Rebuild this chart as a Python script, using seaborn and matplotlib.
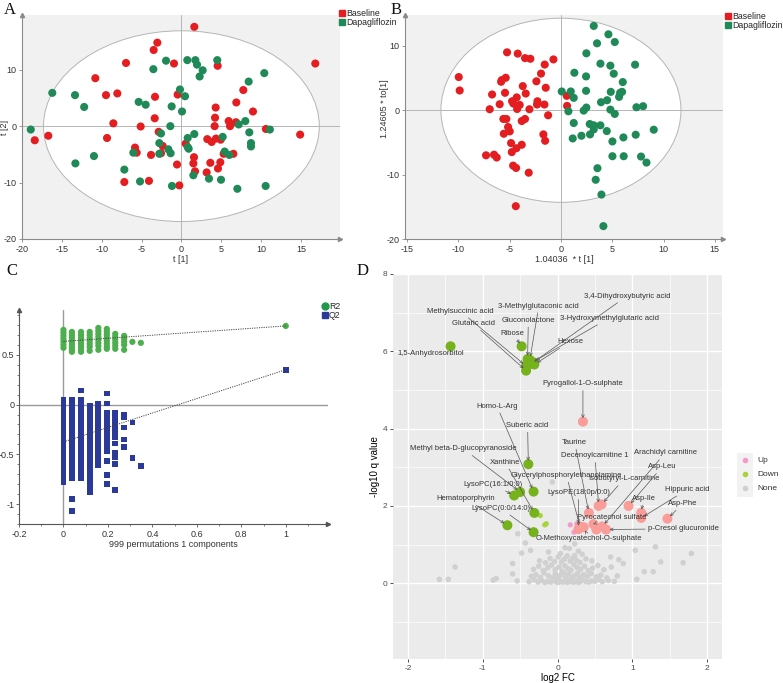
""" Four-panel metabolomics figure: PCA, OPLS-DA, permutation test, volcano """

import matplotlib
matplotlib.use("Agg")
import matplotlib.pyplot as plt
import numpy as np
import pandas as pd
import seaborn as sns
from matplotlib.lines import Line2D
from matplotlib.patches import Ellipse, Rectangle


# ---------------- data ----------------

# A: PCA scores t[1], t[2]
pca_base_x = [1.62, -3.02, -3.48, -6.95, -0.93, 4.55, 16.8, -10.8, -9.46, -8.04, -3.31, -0.47,
              7.77, 6.89, 4.3, 8.98, -8.54, -5.11, -3.35, 4.22, 4.17, 5.93, 6.1, 6.85, 10.6,
              14.9, -16.7, -18.4, -9.33, -2.85, -5.82, -5.61, -3.81, -2.35, -2.56, 0.54, 3.25,
              3.8, 4.34, 4.93, 5.3, 6.52, 1.58, 1.5, 1.71, 3.63, 4.88, 4.59, 3.17, -0.55,
              -7.16, -4.07, -0.26]
pca_base_y = [17.6, 14.8, 13.5, 11.2, 11.1, 10.7, 11.1, 8.5, 5.5, 5.8, 5.2, 5.6,
              6.4, 4.2, 3.3, 2.6, 0.5, -0.06, 1.4, 1.5, 0.0, 0.9, 0.0, 0.7, -0.5,
              -1.5, -1.7, -2.5, -2.1, -1.0, -3.8, -4.7, -5.1, -3.5, -4.8, -3.1, -2.3,
              -2.8, -2.2, -2.4, -4.9, -4.9, -5.5, -6.6, -8.0, -6.5, -6.4, -7.5, -8.2, -6.8,
              -9.9, -9.7, -10.5]
pca_dapa_x = [0.74, 1.75, 1.96, 2.67, 2.29, 4.5, -1.93, -3.52, 10.4, 8.44, -16.2, -13.35,
              -12.2, -5.36, -4.48, -1.22, -0.18, 0.45, 0.08, -1.39, -2.56, -18.9, -10.97,
              -13.3, -7.16, -6.03, -2.77, -2.77, -1.64, -1.35, 0.79, 0.79, 0.91, 1.62, 5.18,
              7.19, 8.02, 8.52, 8.73, 8.73, 11.1, 5.43, 6.01, 1.5, 3.46, 4.97, -5.19, -1.18,
              7.02, 10.57]
pca_dapa_y = [11.7, 11.7, 10.9, 9.9, 8.8, 11.7, 11.6, 10.1, 9.4, 7.9, 5.9, 5.5,
              3.4, 4.3, 3.8, 3.5, 6.5, 5.3, 2.6, 0.0, -1.3, -0.6, -5.3,
              -6.6, -7.7, -4.7, -3.0, -4.9, -4.1, -4.8, -2.1, -3.7, -4.0, -1.4, -1.9,
              0.3, 0.9, -1.1, -3.0, -3.6, -0.6, -4.5, -5.1, -8.7, -9.3, -9.5, -9.8, -10.6,
              -11.1, -10.6]

# B: OPLS-DA scores
opls_base_x = [-9.96, -9.87, -6.71, -6.94, -5.97, -5.83, -5.77, -5.38, -5.45, -5.25, -4.21,
               -3.5, -2.98, -0.73, -1.58, -1.94, -2.39, -1.48, -3.72, -3.43, -4.31, -4.76,
               -4.63, -4.02, -4.27, -3.07, -2.29, -2.33, -1.61, -1.25, 0.57, 0.6, -5.61,
               -5.32, -5.15, -5.57, -4.99, -3.5, -3.82, -1.71, -1.54, -4.86, -4.79, -4.34,
               -3.82, -7.3, -6.52, -6.26, -4.66, -4.37, -3.14, -4.4]
opls_base_y = [5.16, 3.07, 2.45, 0.16, 0.94, 4.43, 4.69, 5.05, 2.71, 9.0, 8.8,
               8.1, 8.0, 7.9, 7.1, 5.7, 4.5, 3.5, 3.75, 2.6, 2.0, 1.4,
               1.04, 0.83, 0.2, 0.16, 1.4, 0.89, 0.89, -0.78, 2.24, 0.68, -1.35,
               -1.35, -2.6, -3.65, -3.28, -1.35, -1.67, -3.75, -4.74, -5.1, -6.5, -5.9,
               -5.36, -7.0, -6.9, -7.34, -8.6, -8.96, -9.7, -14.9]
opls_dapa_x = [3.2, 4.63, 3.52, 5.25, 2.48, 3.85, 4.82, 7.23, 1.31, 5.15, 2.45, 6.03,
               0.08, 0.96, 1.25, 2.45, 4.86, 5.77, 5.96, 5.67, 4.5, 3.91, 0.73, 2.22,
               2.48, 4.82, 5.25, 7.36, 8.01, 1.25, 2.81, 3.2, 3.2, 2.84, 3.85, 4.47,
               1.15, 2.0, 5.02, 6.09, 7.29, 9.05, 5.02, 6.12, 7.81, 8.34, 3.56, 3.39,
               3.95, 4.14]
opls_dapa_y = [13.1, 11.8, 10.4, 10.6, 8.85, 7.24, 6.93, 7.08, 5.83, 5.68, 5.26, 4.38,
               2.92, 2.92, 1.93, 3.02, 2.86, 2.71, 2.86, 2.08, 1.56, 1.25, -0.16, -0.05,
               0.42, 0.1, -0.57, 0.47, 0.63, -1.98, -2.14, -2.34, -2.97, -3.75, -2.34, -3.23,
               -4.38, -3.96, -4.84, -4.22, -3.8, -3.02, -7.14, -7.14, -7.19, -8.13, -9.0, -10.8,
               -13.1, -18.0]

# C: permutation test (999 permutations, 1 component)
perm_x = [0.0, 0.038, 0.079, 0.118, 0.157, 0.195, 0.233, 0.273, 0.31, 0.348]
r2_cols = [
    [0.75, 0.72, 0.69, 0.66, 0.63, 0.60, 0.57],
    [0.73, 0.70, 0.67, 0.64, 0.61, 0.58, 0.55, 0.53],
    [0.73, 0.70, 0.67, 0.64, 0.61, 0.58, 0.55, 0.53],
    [0.73, 0.70, 0.67, 0.64, 0.61, 0.58, 0.54],
    [0.77, 0.74, 0.71, 0.68, 0.65, 0.62, 0.59, 0.55],
    [0.76, 0.73, 0.70, 0.67, 0.64, 0.61, 0.58, 0.56],
    [0.71, 0.68, 0.65, 0.62, 0.59, 0.56],
    [0.69, 0.66, 0.63, 0.60, 0.55],
    [0.63],
    [0.62],
]
q2_cols = [
    [0.05, 0.0, -0.05, -0.1, -0.15, -0.2, -0.25, -0.3, -0.35, -0.4, -0.45, -0.5,
     -0.55, -0.6, -0.65, -0.7, -0.75, -0.78],
    [0.05, 0.0, -0.05, -0.1, -0.15, -0.2, -0.25, -0.3, -0.35, -0.4, -0.45, -0.5,
     -0.55, -0.6, -0.65, -0.68, -0.74, -0.95, -1.07],
    [0.14, 0.05, 0.0, -0.05, -0.1, -0.15, -0.2, -0.25, -0.3, -0.35, -0.4, -0.45,
     -0.5, -0.55, -0.6, -0.65, -0.7, -0.74],
    [-0.01, -0.06, -0.11, -0.16, -0.21, -0.26, -0.31, -0.36, -0.41, -0.46, -0.51,
     -0.56, -0.61, -0.66, -0.71, -0.76, -0.81, -0.85, -0.88],
    [0.01, -0.04, -0.09, -0.14, -0.19, -0.24, -0.29, -0.34, -0.39, -0.44, -0.49,
     -0.54, -0.58, -0.61],
    [0.11, 0.01, -0.08, -0.13, -0.18, -0.23, -0.28, -0.33, -0.38, -0.43, -0.47,
     -0.57, -0.71, -0.80],
    [-0.08, -0.13, -0.18, -0.23, -0.28, -0.33, -0.39, -0.49, -0.53, -0.60, -0.86],
    [-0.10, -0.13, -0.23, -0.35, -0.43],
    [-0.18, -0.54],
    [-0.62],
]
r2_actual, q2_actual = 0.79, 0.35
r2_intercept, q2_intercept = 0.635, -0.375

# D: volcano plot (log2 FC, -log10 q)
labeled_names = ["Pyrogallol-1-O-sulphate", "Taurine", "Decenoylcarnitine 1",
                 "Isobutyryl-L-carnitine", "Asp-Leu", "Asp-Ile", "Hippuric acid", "Asp-Phe",
                 "Pyrocatechol sulfate", "Arachidyl carnitine", "p-Cresol glucuronide",
                 "LysoPE(18:0p/0:0)", "Glycerylphosphorylethanolamine",
                 "O-Methoxycatechol-O-sulphate",
                 "1,5-Anhydrosorbitol", "Ribose", "Methylsuccinic acid", "Glutaric acid",
                 "3-Methylglutaconic acid", "Gluconolactone", "3-Hydroxymethylglutaric acid",
                 "3,4-Dihydroxybutyric acid", "Hexose", "Suberic acid", "Homo-L-Arg",
                 "Methyl beta-D-glucopyranoside", "LysoPC(16:1/0:0)", "Xanthine",
                 "Hematoporphyrin", "LysoPC(0:0/14:0)"]
labeled_fc = [0.34, 0.42, 0.55, 0.59, 0.95, 1.12, 1.12, 1.47, 0.48, 0.60, 0.65, 0.28, 0.30,
              0.35, -1.43, -0.48, -0.42, -0.42, -0.37, -0.40, -0.33, -0.35, -0.31, -0.39,
              -0.32, -0.50, -0.58, -0.31, -0.67, -0.32]
labeled_q = [4.18, 1.82, 2.0, 2.04, 2.0, 1.82, 1.69, 1.67, 1.53, 1.47, 1.39, 1.40, 1.47,
             1.45, 6.13, 6.13, 5.62, 5.50, 5.78, 5.80, 5.72, 5.68, 5.66, 3.08, 2.37,
             2.36, 2.27, 1.82, 1.50, 1.32]
labeled_dir = ["Up"] * 14 + ["Down"] * 16
extra_up_fc = [0.52]
extra_up_q = [1.39]
small_up_fc = [0.17, 0.26, 0.22, 0.26]
small_up_q = [1.51, 1.54, 1.32, 1.35]
small_down_fc = [-0.23, -0.15, -0.17]
small_down_q = [1.75, 1.54, 1.51]
none_fc = [-1.58, -1.46, -0.86, -0.82, -0.54, -0.38, -0.31, -0.26, -0.21, -0.17, -0.13, -0.09,
           -0.05, -0.02, 0.01, 0.04, 0.07, 0.1, 0.13, 0.16, 0.19, 0.22, 0.25, 0.28, 0.31,
           0.34, 0.38, 0.42, 0.46, 0.5, 0.55, 0.6, 0.68, 0.76, 1.06,
           -0.6, -0.35, -0.29, -0.23, -0.18, -0.12, -0.07, -0.03, 0.0, 0.04, 0.08, 0.11,
           0.15, 0.19, 0.23, 0.27, 0.3, 0.35, 0.4, 0.45, 0.52, 0.58, 0.66, 0.8, 1.16, 1.28,
           -1.37, -0.6, -0.32, -0.25, -0.19, -0.13, -0.08, -0.03, 0.02, 0.06, 0.1, 0.14,
           0.18, 0.22, 0.26, 0.31, 0.36, 0.41, 0.47, 0.54, 0.62, 0.72, 0.88,
           -0.24, -0.16, -0.1, -0.04, 0.01, 0.05, 0.09, 0.13, 0.17, 0.21, 0.25, 0.3, 0.38,
           0.46, 0.71, 0.82, 1.38, 1.68,
           -0.48, -0.36, -0.12, 0.04, 0.1, 0.13, 0.16, 0.23, 0.28, 0.33, 1.04, 1.31, 1.79,
           -0.43, -0.53, 0.23, -0.07]
none_q = [0.10, 0.10, 0.08, 0.12, 0.06, 0.04, 0.09, 0.03, 0.07, 0.02, 0.05, 0.03,
          0.08, 0.04, 0.02, 0.06, 0.03, 0.05, 0.02, 0.07, 0.04, 0.03, 0.06, 0.02, 0.05,
          0.08, 0.04, 0.03, 0.06, 0.05, 0.09, 0.04, 0.07, 0.05, 0.10,
          0.24, 0.18, 0.22, 0.15, 0.27, 0.19, 0.14, 0.25, 0.17, 0.21, 0.28, 0.16,
          0.24, 0.14, 0.2, 0.26, 0.15, 0.22, 0.18, 0.25, 0.17, 0.21, 0.14, 0.19, 0.30, 0.30,
          0.42, 0.51, 0.36, 0.44, 0.33, 0.4, 0.47, 0.35, 0.42, 0.31, 0.45, 0.38,
          0.34, 0.48, 0.41, 0.36, 0.44, 0.33, 0.39, 0.46, 0.35, 0.42, 0.51,
          0.58, 0.53, 0.64, 0.56, 0.68, 0.55, 0.62, 0.7, 0.57, 0.66, 0.6, 0.54, 0.63,
          0.58, 0.68, 0.61, 0.55, 0.53,
          0.78, 0.85, 0.81, 0.77, 0.92, 0.7, 0.9, 0.72, 0.83, 0.75, 0.85, 0.94, 0.77,
          1.04, 1.28, 1.02, 2.62]

# label placement for D (text centre), same order as labeled_names
label_text_xy = [(0.34, 5.16), (0.23, 3.64), (0.50, 3.30), (0.89, 2.70), (1.40, 3.01),
                 (1.15, 2.19), (1.74, 2.43), (1.68, 2.06), (0.73, 1.71), (1.44, 3.37),
                 (1.69, 1.41), (0.28, 2.34), (0.12, 2.79), (0.42, 1.15), (-1.70, 5.95),
                 (-0.60, 6.47), (-1.30, 7.04), (-1.13, 6.72), (-0.25, 7.17), (-0.39, 6.80),
                 (0.69, 6.86), (0.93, 7.43), (0.17, 6.25), (-0.40, 4.08), (-0.81, 4.58),
                 (-1.26, 3.48), (-0.87, 2.56), (-0.70, 3.13), (-1.23, 2.19), (-0.76, 1.94)]


# ---------------- style ----------------

sns.set_style("ticks")
plt.rcParams["font.family"] = ["Liberation Sans", "DejaVu Sans"]
plt.rcParams["axes.unicode_minus"] = False

RED = "#E41E20"
GREEN = "#1F8A57"
TXT = "#333333"

fig = plt.figure(figsize=(7.83, 6.83), dpi=100)
W, H = 783, 683


def px_axes(left, top, right, bottom):
    """ add axes given pixel box """
    return fig.add_axes([left / W, 1 - bottom / H, (right - left) / W, (bottom - top) / H])


def arrow_axes(ax, color):
    """ SIMCA style axes: left and bottom lines with arrowheads """
    for side in ["top", "right"]:
        ax.spines[side].set_visible(False)
    for side in ["left", "bottom"]:
        ax.spines[side].set_color(color)
        ax.spines[side].set_linewidth(0.8)
    ax.plot(1, 0, ">", color=color, ms=3, transform=ax.transAxes, clip_on=False)
    ax.plot(0, 1, "^", color=color, ms=3, transform=ax.transAxes, clip_on=False)
    ax.tick_params(labelsize=6.5, colors=TXT, length=2.5, width=0.6, pad=1.5)
    ax.tick_params(color=color)


def score_plot(ax, bx, by, dx, dy, ell_w, ell_h, xlim, ylim):
    """ score scatter with Hotelling ellipse """
    ax.set_facecolor("#F1F1F1")
    ax.add_patch(Ellipse((0, 0), 2 * ell_w, 2 * ell_h, facecolor="white",
                         edgecolor="#B5B5B5", lw=0.7, zorder=0))
    ax.axhline(0, color="#B5B5B5", lw=0.7, zorder=1)
    ax.axvline(0, color="#B5B5B5", lw=0.7, zorder=1)
    df = pd.DataFrame({
        "x": bx + dx, "y": by + dy,
        "group": ["Baseline"] * len(bx) + ["Dapagliflozin"] * len(dx),
    })
    sns.scatterplot(data=df, x="x", y="y", hue="group",
                    palette={"Baseline": RED, "Dapagliflozin": GREEN},
                    s=34, edgecolor="none", legend=False, ax=ax, zorder=3)
    ax.set_xlim(*xlim)
    ax.set_ylim(*ylim)
    arrow_axes(ax, "#8A8A8A")


group_handles = [
    Line2D([], [], marker="s", ls="none", color=RED, ms=5, label="Baseline"),
    Line2D([], [], marker="s", ls="none", color=GREEN, ms=5, label="Dapagliflozin"),
]

# ---------------- A ----------------
axA = px_axes(22, 15, 340, 239)
score_plot(axA, pca_base_x, pca_base_y, pca_dapa_x, pca_dapa_y, 17.3, 16.9,
           (-20, 19.9), (-20, 19.7))
axA.set_xticks(range(-20, 16, 5))
axA.set_yticks([-20, -10, 0, 10])
axA.set_xlabel("t [1]", fontsize=6.5, color=TXT, labelpad=1)
axA.set_ylabel("t [2]", fontsize=6.5, color=TXT)
axA.yaxis.set_label_coords(-0.04, 0.5)
fig.legend(handles=group_handles, loc="upper left", bbox_to_anchor=(339 / W, 1 - 9 / H),
           frameon=False, fontsize=6.3, handlelength=0.6, handletextpad=0.2,
           labelspacing=0.05, borderpad=0, borderaxespad=0)

# ---------------- B ----------------
axB = px_axes(405, 15, 723, 239)
score_plot(axB, opls_base_x, opls_base_y, opls_dapa_x, opls_dapa_y, 11.7, 14.3,
           (-15.2, 15.8), (-20, 14.8))
axB.set_xticks(range(-15, 16, 5))
axB.set_yticks([-20, -10, 0, 10])
axB.set_xlabel("1.04036  * t [1]", fontsize=6.5, color=TXT, labelpad=1)
axB.set_ylabel("1.24605 * to[1]", fontsize=6.5, color=TXT)
axB.yaxis.set_label_coords(-0.05, 0.58)
fig.legend(handles=group_handles, loc="upper left", bbox_to_anchor=(725 / W, 1 - 12 / H),
           frameon=False, fontsize=6.3, handlelength=0.6, handletextpad=0.2,
           labelspacing=0.05, borderpad=0, borderaxespad=0)

# ---------------- C ----------------
axC = px_axes(19, 310, 328, 524)
rx, ry, qx, qy = [], [], [], []
for xv, col in zip(perm_x, r2_cols):
    rx += [xv] * len(col)
    ry += col
for xv, col in zip(perm_x, q2_cols):
    qx += [xv] * len(col)
    qy += col
rx.append(1.0)
ry.append(r2_actual)
qx.append(1.0)
qy.append(q2_actual)
axC.axhline(0, color="#9A9A9A", lw=1.0, zorder=1)
axC.axvline(0, color="#9A9A9A", lw=1.0, zorder=1)
axC.plot([0, 1], [r2_intercept, r2_actual], ls=(0, (1.2, 1.2)), color="#444444", lw=0.7,
         zorder=4)
axC.plot([0, 1], [q2_intercept, q2_actual], ls=(0, (1.2, 1.2)), color="#444444", lw=0.7,
         zorder=4)
sns.scatterplot(x=rx, y=ry, marker="o", color="#4CAE4C", s=20, edgecolor="none", ax=axC,
                zorder=3)
sns.scatterplot(x=qx, y=qy, marker="s", color="#2B3A9A", s=17, edgecolor="none", ax=axC,
                zorder=3)
axC.set_xlim(-0.2, 1.19)
axC.set_ylim(-1.2, 0.95)
axC.set_xticks([-0.2, 0, 0.2, 0.4, 0.6, 0.8, 1])
axC.set_xticklabels(["-0.2", "0", "0.2", "0.4", "0.6", "0.8", "1"])
axC.set_yticks([-1, -0.5, 0, 0.5])
axC.set_yticklabels(["-1", "-0.5", "0", "0.5"])
axC.set_xticks(np.arange(-0.2, 1.15, 0.1), minor=True)
axC.set_yticks(np.arange(-1.2, 0.95, 0.1), minor=True)
arrow_axes(axC, "#555555")
axC.tick_params(which="minor", length=1.5, width=0.5, color="#555555")
axC.tick_params(axis="y", pad=1)
axC.set_xlabel("999 permutations 1 components", fontsize=6.5, color=TXT, labelpad=1)
fig.legend(handles=[
    Line2D([], [], marker="o", ls="none", color="#1E9A4A", ms=5, label="R2"),
    Line2D([], [], marker="s", ls="none", color="#2B3A9A", ms=5, label="Q2"),
], loc="upper left", bbox_to_anchor=(322 / W, 1 - 302 / H), frameon=False, fontsize=6.3,
    handlelength=0.6, handletextpad=0.2, labelspacing=0.05, borderpad=0, borderaxespad=0)

# ---------------- D ----------------
axD = px_axes(393, 274, 722, 659)
axD.set_facecolor("#EBEBEB")
for side in axD.spines.values():
    side.set_visible(False)
axD.set_axisbelow(True)
axD.set_xticks([-2, -1, 0, 1, 2])
axD.set_yticks([0, 2, 4, 6, 8])
axD.set_xticks([-1.5, -0.5, 0.5, 1.5], minor=True)
axD.set_yticks([-1, 1, 3, 5, 7], minor=True)
axD.grid(which="major", color="white", lw=1.0)
axD.grid(which="minor", color="white", lw=0.5)
axD.tick_params(which="major", labelsize=6, labelcolor="#4D4D4D", color="#333333",
                length=2.5, width=0.6, pad=1.5)
axD.tick_params(which="minor", length=0)

sns.scatterplot(x=none_fc, y=none_q, color="#D0D0D0", s=16, edgecolor="none", ax=axD,
                zorder=2)
sns.scatterplot(x=small_up_fc, y=small_up_q, color="#F49AC8", s=14, edgecolor="none",
                ax=axD, zorder=3)
sns.scatterplot(x=small_down_fc, y=small_down_q, color="#A8D33A", s=14, edgecolor="none",
                ax=axD, zorder=3)
lab_df = pd.DataFrame({"fc": labeled_fc + extra_up_fc, "q": labeled_q + extra_up_q,
                       "dir": labeled_dir + ["Up"]})
sns.scatterplot(data=lab_df, x="fc", y="q", hue="dir",
                palette={"Up": "#FA9C98", "Down": "#75B21B"}, s=52, edgecolor="none",
                legend=False, ax=axD, zorder=4)

for name, fx, qv, (tx, ty) in zip(labeled_names, labeled_fc, labeled_q, label_text_xy):
    if name == "1,5-Anhydrosorbitol":
        axD.text(tx, ty, name, fontsize=5.5, color=TXT, ha="center", va="center", zorder=6)
        continue
    axD.annotate(name, xy=(fx, qv), xytext=(tx, ty), fontsize=5.5, color=TXT,
                 ha="center", va="center", zorder=6,
                 arrowprops=dict(arrowstyle="->", color="#555555", lw=0.5,
                                 shrinkA=0, shrinkB=2.5, mutation_scale=5))

axD.set_xlim(-2.2, 2.2)
axD.set_ylim(-1.96, 8.0)
axD.set_xlabel("log2 FC", fontsize=7, color="black", labelpad=1)
axD.set_ylabel("-log10 q value", fontsize=7, color="black", labelpad=2)

# D legend (ggplot style keys)
fig.add_artist(Rectangle((737 / W, 1 - 497 / H), 16 / W, 44 / H, transform=fig.transFigure,
                         facecolor="#F2F2F2", edgecolor="none"))
for i, (lab, col) in enumerate([("Up", "#F49AC8"), ("Down", "#A8D33A"), ("None", "#D0D0D0")]):
    yy = 1 - (460 + 14 * i) / H
    fig.add_artist(Line2D([745 / W], [yy], marker="o", ms=3, color=col, ls="none",
                          transform=fig.transFigure))
    fig.text(757 / W, yy, lab, fontsize=6, color=TXT, va="center", ha="left")

# panel letters
for letter, x, y in [("A", 4, 10), ("B", 391, 10), ("C", 6, 271), ("D", 357, 271)]:
    fig.text(x / W, 1 - y / H, letter, fontsize=12, family=["Liberation Serif", "DejaVu Serif"],
             va="center", ha="left", color="#111111")

fig.savefig("out.png", dpi=100)
